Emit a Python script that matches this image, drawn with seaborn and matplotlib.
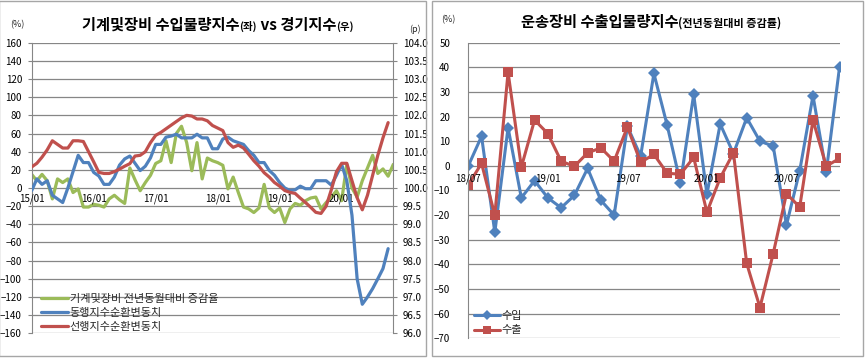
import numpy as np
import pandas as pd
import matplotlib
matplotlib.use("Agg")
import matplotlib.pyplot as plt
import matplotlib.transforms as mtransforms
from matplotlib.lines import Line2D
from matplotlib.patches import Rectangle
import seaborn as sns

sns.set_style("white")
plt.rcParams['font.family'] = ['Noto Sans CJK KR', 'DejaVu Sans']

# ---------------- data: left chart (monthly, 15/01 .. 20/11) ----------------
left_months = [f"{y % 100:02d}/{m:02d}" for y in range(2015, 2021) for m in range(1, 13)][:71]
left_tick_labels = ["15/01", "16/01", "17/01", "18/01", "19/01", "20/01"]

machinery_yoy = [15, 8, 15, 8, -12, 10, 6, 10, -5, -1,
                 -21, -21, -18, -19, -21, -12, -8, -13, -17, 22,
                 9, -3, 6, 14, 27, 30, 52, 28, 60, 68,
                 50, 19, 50, 10, 33, 30, 28, 25, -1, 12,
                 -5, -21, -23, -27, -22, 4, -22, -27, -22, -38,
                 -23, -17, -19, -14, -11, -10, -23, -16, -10, -3,
                 -14, 26, 0, -10, 8, 22, 36, 16, 21, 13, 26]

coincident = [99.93, 100.25, 100.10, 100.20, 99.80, 99.70, 99.60, 100.00, 100.45, 100.90,
              100.70, 100.70, 100.43, 100.33, 100.10, 100.10, 100.30, 100.63, 100.80, 100.88,
              100.68, 100.48, 100.60, 100.83, 101.20, 101.20, 101.40, 101.43, 101.48, 101.38,
              101.38, 101.38, 101.48, 101.38, 101.38, 101.08, 101.08, 101.35, 101.40, 101.30,
              101.25, 101.20, 101.03, 100.90, 100.70, 100.70, 100.48, 100.35, 100.15, 100.00,
              99.93, 99.95, 100.05, 99.98, 99.98, 100.20, 100.20, 100.20, 100.08, 100.35,
              100.65, 100.20, 99.25, 97.50, 96.80, 97.00, 97.23, 97.50, 97.78, 98.33, np.nan]

leading = [100.58, 100.68, 100.85, 101.05, 101.30, 101.20, 101.10, 101.10, 101.30, 101.30,
           101.28, 101.00, 100.72, 100.43, 100.40, 100.40, 100.45, 100.52, 100.60, 100.67,
           100.88, 100.90, 101.00, 101.25, 101.45, 101.53, 101.63, 101.73, 101.83, 101.93,
           102.00, 101.98, 101.90, 101.90, 101.85, 101.72, 101.65, 101.58, 101.25, 101.12,
           101.18, 101.10, 100.93, 100.75, 100.60, 100.42, 100.30, 100.15, 100.05, 99.93,
           99.88, 99.85, 99.72, 99.60, 99.47, 99.33, 99.30, 99.50, 99.95, 100.45,
           100.68, 100.68, 100.20, 99.73, 99.40, 99.80, 100.35, 100.90, 101.38, 101.80, np.nan]

# ---------------- data: right chart (monthly, 18/07 .. 20/11) ----------------
right_months = [f"{y % 100:02d}/{m:02d}" for y in range(2018, 2021) for m in range(1, 13)][6:35]
right_tick_labels = ["18/07", "19/01", "19/07", "20/01", "20/07"]

transport_import = [0, 12, -27, 15.5, -13, -6, -13, -17, -12, -1,
                    -14, -20, 16, 4, 37.5, 16.5, -7, 29, -11.5, 17,
                    5, 19.5, 10, 8, -24, -2, 28.5, -2.5, 40]
transport_export = [-7.7, 1, -20, 38, -0.5, 18.6, 13.1, 1.9, -0.2, 5.3,
                    7.3, 1.9, 15.8, 1.4, 4.7, -3, -3.4, 3.4, -18.8, -4.9,
                    5.3, -39.6, -57.5, -35.6, -11.3, -16.7, 18.6, -0.1, 3]

# ---------------- styling ----------------
BLUE = "#4F81BD"
RED = "#C0504D"
GREEN = "#9BBB59"
GRID = "#868686"
TXT = "#000000"
W, H = 865, 358

fig = plt.figure(figsize=(W / 100, H / 100), dpi=100)


def fbox(x0, y0, x1, y1):
    return [x0 / W, 1 - y1 / H, (x1 - x0) / W, (y1 - y0) / H]


# panel frames
fig.add_artist(Rectangle((-1 / W, 1 - 356 / H), 427 / W, 355 / H, transform=fig.transFigure,
                         fill=False, ec="#a6a6a6", lw=1))
fig.add_artist(Rectangle((432 / W, 1 - 356 / H), 431 / W, 355 / H, transform=fig.transFigure,
                         fill=False, ec="#a6a6a6", lw=1))

# ================= left chart =================
axL = fig.add_axes(fbox(31.7, 42.7, 393.3, 333.3))
axR = axL.twinx()

dfL = pd.DataFrame({"idx": np.arange(len(left_months)), "month": left_months,
                    "machinery": machinery_yoy, "coincident": coincident, "leading": leading})

sns.lineplot(data=dfL, x="idx", y="machinery", ax=axL, color=GREEN, linewidth=2.3, legend=False)
sns.lineplot(data=dfL.dropna(), x="idx", y="coincident", ax=axR, color=BLUE, linewidth=2.3, legend=False)
sns.lineplot(data=dfL.dropna(), x="idx", y="leading", ax=axR, color=RED, linewidth=2.3, legend=False)

axL.set_xlim(0, len(left_months) - 1)
axL.set_ylim(-160, 160)
axR.set_ylim(96, 104)
axL.set_yticks(np.arange(-160, 161, 20))
axR.set_yticks(np.arange(96, 104.01, 0.5))
axR.set_yticklabels([f"{v:.1f}" for v in np.arange(96, 104.01, 0.5)])
axL.set_xticks([])
axL.set_xlabel("")
axL.set_ylabel("")
axR.set_ylabel("")
axL.yaxis.grid(True, color=GRID, linewidth=0.9)
axL.set_axisbelow(True)
for a in (axL, axR):
    for s in ("top", "bottom"):
        a.spines[s].set_visible(False)
    a.spines["left"].set_color(GRID)
    a.spines["right"].set_color(GRID)
    a.tick_params(axis="y", length=3, width=0.8, color=GRID, labelsize=7, labelcolor=TXT, pad=4)
axL.spines["right"].set_visible(False)
axR.spines["left"].set_visible(False)

offL = mtransforms.offset_copy(axL.transData, fig=fig, x=0, y=-8, units="points")
for lab in left_tick_labels:
    i = left_months.index(lab)
    axL.text(i, 0, lab, transform=offL, ha="center", va="center", fontsize=7, color=TXT)

fig.text(17.5 / W, 1 - 25 / H, "(%)", fontsize=6.5, ha="center", va="center")
fig.text(415 / W, 1 - 29 / H, "(p)", fontsize=6.5, ha="center", va="center")

# legend left
hL = [Line2D([], [], color=GREEN, lw=2.3), Line2D([], [], color=BLUE, lw=2.3),
      Line2D([], [], color=RED, lw=2.3)]
axL.legend(hL, ["기계및장비 전년동월대비 증감율", "동행지수순환변동치", "선행지수순환변동치"],
           loc="upper left", bbox_to_anchor=(41 / W, 1 - 294 / H), bbox_transform=fig.transFigure,
           frameon=False, fontsize=8, handlelength=2.4, handletextpad=0.2, labelspacing=0.36,
           borderpad=0, borderaxespad=0)

# ================= right chart =================
ax2 = fig.add_axes(fbox(468.3, 42.7, 839.5, 338.3))
dfR = pd.DataFrame({"idx": np.arange(len(right_months)), "month": right_months,
                    "import": transport_import, "export": transport_export})
sns.lineplot(data=dfR, x="idx", y="import", ax=ax2, color=BLUE, linewidth=2.2, marker="D",
             markersize=6.5, markeredgewidth=0, legend=False)
sns.lineplot(data=dfR, x="idx", y="export", ax=ax2, color=RED, linewidth=2.2, marker="s",
             markersize=6.5, markeredgewidth=0, legend=False)
ax2.set_xlim(0, len(right_months) - 1)
ax2.set_ylim(-70, 50)
ax2.set_yticks(np.arange(-70, 51, 10))
ax2.set_xticks([])
ax2.set_xlabel("")
ax2.set_ylabel("")
ax2.yaxis.grid(True, color=GRID, linewidth=0.9)
ax2.set_axisbelow(True)
for s in ("top", "bottom", "right"):
    ax2.spines[s].set_visible(False)
ax2.spines["left"].set_color(GRID)
ax2.tick_params(axis="y", length=3, width=0.8, color=GRID, labelsize=7, labelcolor=TXT, pad=10)

off2 = mtransforms.offset_copy(ax2.transData, fig=fig, x=0, y=-9, units="points")
for lab in right_tick_labels:
    i = right_months.index(lab)
    ax2.text(i, 0, lab, transform=off2, ha="center", va="center", fontsize=7, color=TXT)

fig.text(448 / W, 1 - 20 / H, "(%)", fontsize=6.5, ha="center", va="center")

h2 = [Line2D([], [], color=BLUE, lw=2.2, marker="D", markersize=5, markeredgewidth=0),
      Line2D([], [], color=RED, lw=2.2, marker="s", markersize=5.5, markeredgewidth=0)]
ax2.legend(h2, ["수입", "수출"], loc="upper left", bbox_to_anchor=(474 / W, 1 - 311 / H),
           bbox_transform=fig.transFigure, frameon=False, fontsize=8, handlelength=2.3,
           handletextpad=0.2, labelspacing=0.4, borderpad=0, borderaxespad=0)

# ---------------- titles with mixed font sizes ----------------
fig.canvas.draw()
renderer = fig.canvas.get_renderer()


def mixed_title(x_px, base_px, parts):
    x = x_px
    for txt, size in parts:
        t = fig.text(x / W, 1 - base_px / H, txt, fontsize=size, ha="left", va="baseline",
                     color=TXT, fontweight="bold")
        bb = t.get_window_extent(renderer=renderer)
        x += bb.width


mixed_title(82, 30, [("기계및장비 수입물량지수", 11), ("(좌)", 7.5), (" vs 경기지수", 11), ("(우)", 7.5)])
mixed_title(521, 27, [("운송장비 수출입물량지수", 11), ("(전년동월대비 증감률)", 8)])

fig.savefig("out.png", dpi=100)
